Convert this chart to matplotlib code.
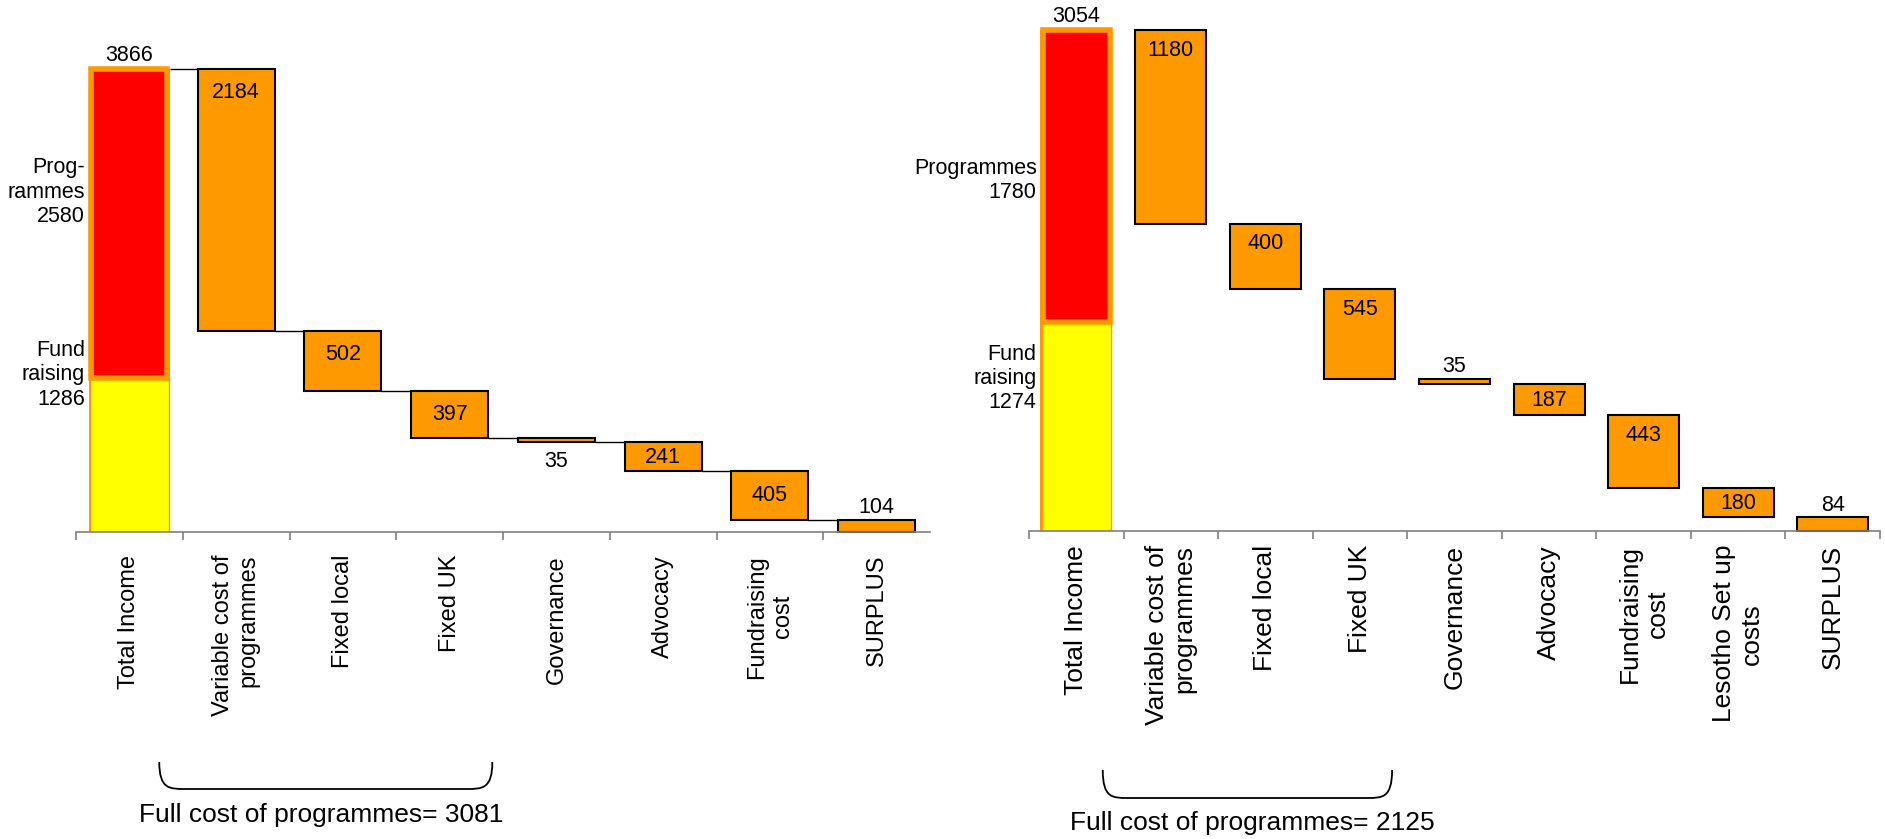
import matplotlib
matplotlib.use("Agg")
import matplotlib.pyplot as plt
import numpy as np
from matplotlib.path import Path
from matplotlib.patches import PathPatch
from matplotlib.transforms import blended_transform_factory

plt.rcParams["font.family"] = ["Liberation Sans", "DejaVu Sans"]

# ---- data -------------------------------------------------------------------
left_categories = ["Total Income", "Variable cost of\nprogrammes", "Fixed local",
                   "Fixed UK", "Governance", "Advocacy", "Fundraising\ncost", "SURPLUS"]
left_total = 3866
left_programmes = 2580
left_fundraising = 1286
left_costs = [2184, 502, 397, 35, 241, 405]
left_surplus = 104
left_full_cost = 3081

right_categories = ["Total Income", "Variable cost of\nprogrammes", "Fixed local",
                    "Fixed UK", "Governance", "Advocacy", "Fundraising\ncost",
                    "Lesotho Set up\ncosts", "SURPLUS"]
right_total = 3054
right_programmes = 1780
right_fundraising = 1274
right_costs = [1180, 400, 545, 35, 187, 443, 180]
right_surplus = 84
right_full_cost = 2125

# ---- styling ----------------------------------------------------------------
W, H = 1885, 839
ORANGE = "#FF9900"
FRAME = "#FF9900"
RED = "#FF0000"
YELLOW = "#FFFF00"
GREY = "#808080"
PT = 72 / 100  # points per pixel at dpi=100
VALUE_FS = 15.5


def px_rect(x0, x1, ybase, ytop):
    return [x0 / W, 1 - ybase / H, (x1 - x0) / W, (ybase - ytop) / H]


def draw_panel(fig, rect, ymax, cats, total, prog, fund, costs, surplus, full_cost,
               prog_text, fund_text, cost_pos, tick_fs, tick_pad, bar_w,
               connectors, label_off, side_y, brace, caption, end_tick):
    ax = fig.add_axes(rect)
    n = len(cats)
    ax.set_xlim(-0.5, n - 0.5)
    ax.set_ylim(0, ymax)

    # income column: orange frame, yellow fundraising, red programmes
    ax.bar(0, total, width=0.765, color=FRAME, linewidth=0, clip_on=False)
    ax.bar(0, fund, width=0.735, color=YELLOW, edgecolor=FRAME, linewidth=1)
    ax.bar(0, prog, bottom=fund, width=0.71, color=RED, edgecolor=FRAME, linewidth=4)
    ax.annotate(f"{total}", (0, total), xytext=(0, 10), textcoords="offset points",
                ha="center", va="center", fontsize=VALUE_FS)

    def px_height(v):
        a = ax.transData.transform([(0, 0), (0, v)])
        return a[1, 1] - a[0, 1]

    def value_label(x, bottom, v, where):
        top = bottom + v
        h = px_height(v)
        if where == "in":
            y, dy = top, -min(label_off, h / 2 + 1)
        elif where == "below":
            y, dy = bottom, -19
        else:
            y, dy = top, 12
        ax.annotate(f"{v}", (x, y), xytext=(0, dy * PT), textcoords="offset points",
                    ha="center", va="center", fontsize=VALUE_FS)

    level = total
    prev_right = 0.765 / 2
    for i, (c, where) in enumerate(zip(costs, cost_pos), start=1):
        if connectors:
            ax.plot([prev_right, i - bar_w / 2], [level, level], color="black",
                    lw=1, solid_capstyle="butt")
        ax.bar(i, c, bottom=level - c, width=bar_w, color=ORANGE,
               edgecolor="black", linewidth=1.5)
        value_label(i, level - c, c, where)
        level -= c
        prev_right = i + bar_w / 2

    last = n - 1
    if connectors:
        ax.plot([prev_right, last - bar_w / 2], [level, level], color="black", lw=1)
    ax.bar(last, surplus, width=bar_w, color=ORANGE, edgecolor="black",
           linewidth=1.5, clip_on=False)
    value_label(last, 0, surplus, "above")

    # income split labels to the left of the first column
    for txt, yf in zip((prog_text, fund_text), side_y):
        ax.annotate(txt, (-0.765 / 2, yf), xycoords=("data", "axes fraction"),
                    xytext=(-2.5, 0), textcoords="offset points", ha="right",
                    va="center", multialignment="right", fontsize=VALUE_FS,
                    linespacing=1.2, annotation_clip=False)

    # axes furniture
    for s in ("left", "right", "top"):
        ax.spines[s].set_visible(False)
    ax.spines["bottom"].set_color(GREY)
    ax.spines["bottom"].set_linewidth(1.2)
    ax.set_yticks([])
    bounds = np.arange(-0.5, n - 0.5 + (0.5 if end_tick else 0), 1.0)
    ax.set_xticks(bounds)
    ax.set_xticklabels([])
    ax.tick_params(axis="x", which="major", length=5.8, width=1.2, color=GREY,
                   direction="out")
    ax.set_xticks(np.arange(n), cats, minor=True, rotation=90, fontsize=tick_fs)
    ax.tick_params(axis="x", which="minor", length=0, pad=tick_pad)
    for lbl in ax.get_xticklabels(minor=True):
        lbl.set_multialignment("right" if lbl.get_text().startswith("Variable")
                               else "center")

    # brace under the programme cost columns
    x0, x1, ytop, ybot, rx = brace
    tr = blended_transform_factory(ax.transData, fig.transFigure)
    yt, yb = 1 - ytop / H, 1 - ybot / H
    verts = [(x0, yt), (x0, yb), (x0 + rx * 0.4, yb), (x0 + rx, yb),
             (x1 - rx, yb),
             (x1 - rx * 0.4, yb), (x1, yb), (x1, yt)]
    codes = [Path.MOVETO, Path.CURVE4, Path.CURVE4, Path.CURVE4,
             Path.LINETO,
             Path.CURVE4, Path.CURVE4, Path.CURVE4]
    fig.add_artist(PathPatch(Path(verts, codes), transform=tr, fill=False,
                             edgecolor="black", lw=1.3))
    cx, cy = caption
    fig.text(cx, 1 - cy / H, f"Full cost of programmes= {full_cost}",
             transform=tr, ha="center", va="center", fontsize=19)
    return ax


fig = plt.figure(figsize=(W / 100, H / 100), dpi=100)

draw_panel(fig, px_rect(76, 930, 532, 20), 4275, left_categories, left_total,
           left_programmes, left_fundraising, left_costs, left_surplus, left_full_cost,
           f"Prog-\nrammes\n{left_programmes}", f"Fund\nraising\n{left_fundraising}",
           ["in", "in", "in", "below", "in", "in"], 17, 16.5, 0.72, True, 24,
           (0.664, 0.307), (0.28, 3.40, 762, 789, 0.24), (1.80, 815), False)

draw_panel(fig, px_rect(1029, 1880, 531, 20), 3116, right_categories, right_total,
           right_programmes, right_fundraising, right_costs, right_surplus,
           right_full_cost,
           f"Programmes\n{right_programmes}", f"Fund\nraising\n{right_fundraising}",
           ["in", "in", "in", "above", "in", "in", "in"], 19, 10, 0.75, False, 20,
           (0.686, 0.299), (0.28, 3.34, 770, 798, 0.26), (1.86, 823), True)

fig.savefig("out.png", dpi=100)
